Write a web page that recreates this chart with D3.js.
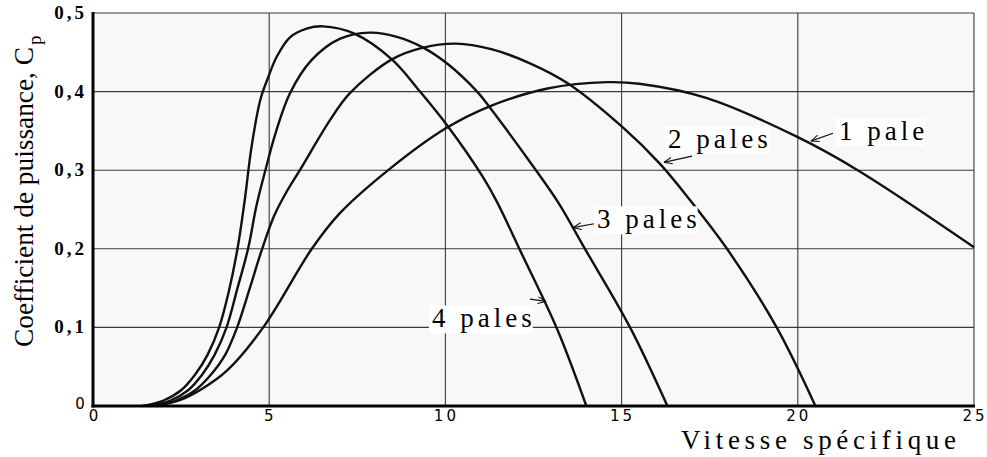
<!DOCTYPE html>
<html lang="fr">
<head>
<meta charset="UTF-8">
<title>Coefficient de puissance</title>
<style>
  body { margin: 0; background: #ffffff; }
  svg { display: block; }
</style>
</head>
<body>
<div class="canvas"></div>
<script src="https://cdnjs.cloudflare.com/ajax/libs/d3/7.8.2/d3.min.js"></script>
<script>
// values: tip speed ratio (lambda) and Cp
const pales4 = [[1.4,0],[2.0,0.007],[2.5,0.02],[2.9,0.04],[3.25,0.065],[3.58,0.1],[3.85,0.145],[4.1,0.2],
  [4.3,0.26],[4.5,0.33],[4.75,0.39],[4.97,0.418],[5.21,0.444],[5.59,0.469],[6.06,0.48],[6.53,0.483],
  [7.4,0.474],[8.48,0.441],[9.28,0.4],[10.1,0.354],[11.04,0.293],[11.46,0.26],[12.12,0.198],[13.17,0.098],[14.0,0]];
const pales3 = [[1.5,0],[2.2,0.007],[2.7,0.02],[3.1,0.04],[3.45,0.065],[3.79,0.1],[4.1,0.15],[4.4,0.2],
  [4.64,0.255],[4.88,0.298],[5.2,0.35],[5.59,0.398],[6.2,0.44],[7.0,0.467],[7.86,0.475],[8.6,0.47],[9.37,0.456],
  [10.04,0.436],[10.9,0.4],[11.24,0.381],[12.6,0.298],[13.2,0.259],[13.96,0.2],[15.24,0.1],[16.3,0]];
const pales2 = [[1.6,0],[2.3,0.006],[2.9,0.02],[3.35,0.04],[3.75,0.065],[4.09,0.1],[4.45,0.15],[4.8,0.2],
  [5.15,0.243],[5.5,0.273],[5.87,0.3],[6.73,0.364],[7.29,0.398],[8.48,0.441],[9.37,0.456],[10.3,0.461],[11.3,0.454],
  [12.4,0.436],[13.49,0.41],[15.02,0.355],[16.09,0.308],[16.94,0.262],[17.99,0.2],[19.4,0.1],[20.5,0]];
const pale1 = [[1.8,0],[2.5,0.008],[3.1,0.022],[3.8,0.045],[4.83,0.1],[6.21,0.2],[7.0,0.245],[8.43,0.302],
  [10.0,0.353],[11.24,0.381],[12.9,0.404],[14.6,0.412],[15.5,0.41],[17.4,0.392],
  [20.0,0.342],[21.7,0.3],[25.0,0.202]];

const series = [pales4, pales3, pales2, pale1];
const xTicks = [0, 5, 10, 15, 20, 25];
const yTicks = [0.1, 0.2, 0.3, 0.4, 0.5];

// label text, where it starts, and where its little arrow points (chart units)
const labels = [
  { text: "1 pale",  at: [21.17, 0.338], from: [21.0, 0.347], to: [20.37, 0.337] },
  { text: "2 pales", at: [16.32, 0.328], from: [17.0, 0.318], to: [16.2, 0.31] },
  { text: "3 pales", at: [14.3, 0.226],  from: [14.3, 0.2325], to: [13.62, 0.227] },
  { text: "4 pales", at: [9.62, 0.1],    from: [12.4, 0.136], to: [12.86, 0.133] }
];

const width = 987, height = 457;
const svg = d3.select(".canvas").append("svg")
  .attr("width", width).attr("height", height);

const x = d3.scaleLinear().domain([0, 25]).range([93, 974]);
const y = d3.scaleLinear().domain([0, 0.5]).range([406, 13]);

svg.append("rect").attr("x", x(0)).attr("y", y(0.5))
  .attr("width", x(25) - x(0)).attr("height", y(0) - y(0.5))
  .attr("fill", "#f8f8f8");

// grid
const grid = svg.append("g").attr("stroke", "#3a3a3a").attr("stroke-width", 1.1);
grid.selectAll(".vg").data(xTicks.slice(1)).enter().append("line")
  .attr("x1", d => x(d)).attr("x2", d => x(d))
  .attr("y1", y(0)).attr("y2", y(0.5));
grid.selectAll(".hg").data(yTicks).enter().append("line")
  .attr("x1", x(0)).attr("x2", x(25))
  .attr("y1", d => y(d)).attr("y2", d => y(d));

// curves
const line = d3.line().x(d => x(d[0])).y(d => y(d[1])).curve(d3.curveCatmullRom.alpha(0.5));
svg.append("g").selectAll("path").data(series).enter().append("path")
  .attr("d", line).attr("fill", "none")
  .attr("stroke", "#111").attr("stroke-width", 2.4);

// thick axis lines
svg.append("line").attr("x1", x(0)).attr("x2", x(0)).attr("y1", y(0.5) - 1).attr("y2", y(0) + 1.5)
  .attr("stroke", "#000").attr("stroke-width", 3);
svg.append("line").attr("x1", x(0) - 1.5).attr("x2", x(25) + 1).attr("y1", y(0)).attr("y2", y(0))
  .attr("stroke", "#000").attr("stroke-width", 3);

// tick labels
svg.append("g").selectAll("text").data(xTicks).enter().append("text")
  .attr("x", d => x(d) + (d === 0 ? 2 : 1)).attr("y", 421)
  .attr("text-anchor", "middle")
  .attr("font-family", "'DejaVu Sans', sans-serif").attr("font-size", 15)
  .attr("letter-spacing", 3)
  .text(d => d);

svg.append("g").selectAll("text").data(yTicks).enter().append("text")
  .attr("x", 87).attr("y", d => y(d) + 6)
  .attr("text-anchor", "end")
  .attr("font-family", "'Liberation Serif', serif").attr("font-weight", "bold")
  .attr("font-size", 19).attr("letter-spacing", 3)
  .text(d => String(d).replace(".", ","));
svg.append("text").attr("x", 80).attr("y", y(0) + 3).attr("text-anchor", "middle")
  .attr("font-family", "'DejaVu Sans', sans-serif").attr("font-size", 15).text("0");

// axis titles
svg.append("text")
  .attr("transform", `translate(33, 347) rotate(-90)`)
  .attr("font-family", "'Liberation Serif', serif").attr("font-size", 28)
  .attr("textLength", 300).attr("lengthAdjust", "spacingAndGlyphs")
  .text("Coefficient de puissance, C");
svg.append("text")
  .attr("transform", `translate(41, 45) rotate(-90)`)
  .attr("font-family", "'Liberation Serif', serif").attr("font-size", 19)
  .text("p");

const xt = svg.append("g");
xt.append("rect").attr("x", 677).attr("y", 428).attr("width", 284).attr("height", 29).attr("fill", "#fff");
xt.append("text").attr("x", 681).attr("y", 449)
  .attr("font-family", "'Liberation Serif', serif").attr("font-size", 27)
  .attr("textLength", 275).attr("lengthAdjust", "spacing")
  .text("Vitesse spécifique");

// curve labels with small arrows
const defs = svg.append("defs");
defs.append("marker").attr("id", "arr").attr("viewBox", "0 0 10 10")
  .attr("refX", 10).attr("refY", 5).attr("markerWidth", 7).attr("markerHeight", 7)
  .attr("orient", "auto-start-reverse")
  .append("path").attr("d", "M0,1 L10,5 L0,9").attr("fill", "none")
  .attr("stroke", "#111").attr("stroke-width", 1.2);

const lab = svg.append("g").selectAll("g").data(labels).enter().append("g");
lab.append("line")
  .attr("x1", d => x(d.from[0])).attr("y1", d => y(d.from[1]))
  .attr("x2", d => x(d.to[0])).attr("y2", d => y(d.to[1]))
  .attr("stroke", "#111").attr("stroke-width", 1.2)
  .attr("marker-end", "url(#arr)");
lab.append("text")
  .attr("x", d => x(d.at[0])).attr("y", d => y(d.at[1]))
  .attr("font-family", "'Liberation Serif', serif").attr("font-size", 27)
  .attr("letter-spacing", 4)
  .text(d => d.text);
lab.each(function () {
  const g = d3.select(this);
  const b = g.select("text").node().getBBox();
  g.insert("rect", "text").attr("x", b.x - 3).attr("y", b.y + 2)
    .attr("width", b.width).attr("height", b.height - 2).attr("fill", "#fff");
});
</script>
</body>
</html>
